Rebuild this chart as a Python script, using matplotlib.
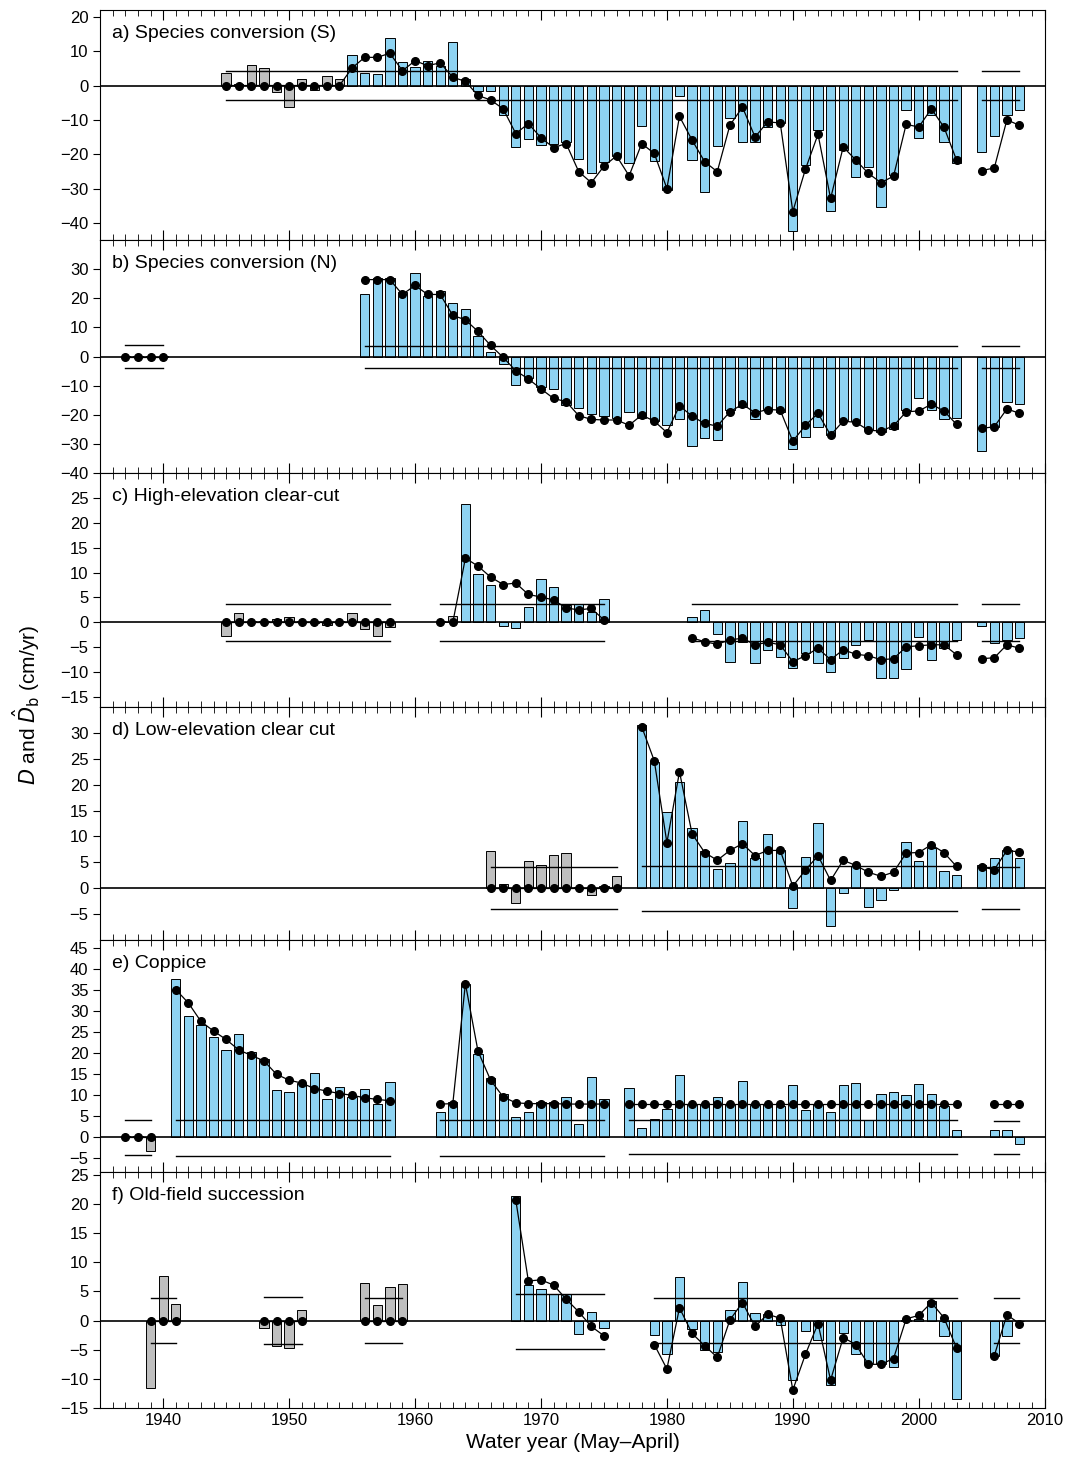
import matplotlib
matplotlib.use("Agg")
import matplotlib.pyplot as plt
from matplotlib.ticker import MultipleLocator
import numpy as np

BLUE = "#8ed3f2"
GRAY = "#bfbfbf"

def yrs(a, b):
    return list(range(a, b + 1))

# ---------------- a) Species conversion (S) ----------------
a_cal_years = yrs(1945, 1954)
a_cal_D = [3.6, 0.3, 6.1, 5.1, -1.9, -6.3, 1.9, -1.4, 2.9, 1.9]
a_trt_years = yrs(1955, 2003)
a_trt_D = [8.9, 3.6, 3.4, 13.8, 6.8, 5.5, 7.2, 5.8, 12.8, 1.9,
           -1.5, -1.5, -8.7, -17.9, -15.5, -17.4, -16.9, -16.4, -21.5, -25.6,
           -22.2, -20.6, -22.7, -11.9, -21.9, -30.4, -3.2, -21.7, -30.9, -17.7,
           -9.4, -16.4, -16.4, -12, -11, -42.5, -23.2, -13, -36.5, -18.8,
           -26.6, -23.7, -35.3, -26, -7.1, -15.3, -8.7, -16.4, -22.7]
a_db_years = yrs(1945, 2003)
a_db = [0] * 10 + [5.1, 8.2, 8.2, 9.4, 4.3, 7.2, 5.8, 6.6, 2.4, 1.2,
        -2.9, -4.2, -6.8, -14, -11.1, -15.2, -18.1, -16.9, -25.1, -28.3,
        -23.5, -20.5, -26.3, -16.9, -19.8, -30, -9, -15.9, -22.2, -25.1,
        -11.6, -6.3, -15, -10.6, -10.9, -36.7, -24.4, -14.2, -32.9, -17.9,
        -21.7, -25.6, -28.3, -26.4, -11.3, -12.1, -6.8, -12.1, -21.7]
a_trt2_years = yrs(2005, 2008)
a_trt2_D = [-19.3, -14.8, -8.7, -7.1]
a_trt2_db = [-24.8, -24, -10, -11.6]
a_thr = [(1945, 2003, 4.3, -4.3), (2005, 2008, 4.3, -4.3)]

# ---------------- b) Species conversion (N) ----------------
b_cal_years = yrs(1937, 1940)
b_cal_D = [0.3, 0.3, 0.3, 0.3]
b_cal_db = [0, 0, 0, 0]
b_trt_years = yrs(1956, 2003)
b_trt_D = [21.3, 27, 27, 22, 28.5, 20.7, 22.4, 18.4, 16.4, 6.9,
           1.4, -2.6, -9.8, -7.5, -10.3, -11, -16.7, -17.8, -19.9, -20.5,
           -21, -18.9, -21, -22, -23.6, -21.5, -30.7, -27.9, -28.7, -18.5,
           -17.4, -21.5, -18, -19, -31.8, -27.6, -24.1, -27, -21.8, -22.2,
           -25.3, -25.8, -25, -18.4, -14.1, -18.5, -21.3, -21]
b_trt_db = [26.4, 26.4, 26.4, 21.3, 24.4, 21.3, 21.3, 14.1, 12.6, 8.6,
            3.8, -0.3, -4.9, -7.7, -11.1, -14.4, -15.5, -20.3, -21.6, -21.8,
            -21.8, -23.6, -20.1, -22.2, -26.1, -16.9, -20.5, -23, -23.9, -19,
            -16.4, -19.3, -18.2, -18.4, -29.1, -23.6, -19.5, -27, -22.2, -22.6,
            -25.3, -25.6, -23.8, -19, -18.7, -16.4, -18.7, -23.3]
b_trt2_years = yrs(2005, 2008)
b_trt2_D = [-32.5, -24.1, -15.7, -16.4]
b_trt2_db = [-24.7, -24.1, -18, -19.5]
b_thr = [(1937, 1940, 3.8, -3.8), (1956, 2003, 3.7, -3.9), (2005, 2008, 3.7, -3.9)]

# ---------------- c) High-elevation clear-cut ----------------
c_cal1_years = yrs(1945, 1958)
c_cal1_D = [-2.7, 1.9, 0.3, 0.3, 0.7, 1.1, 0.3, -0.1, -0.5, 0.3, 1.9, -1.3, -2.7, -1]
c_cal1_db = [0] * 14
c_cal2_years = yrs(1962, 1963)
c_cal2_D = [0.2, 1.2]
c_trt1_years = yrs(1964, 1975)
c_trt1_D = [23.8, 9.8, 7.6, -0.7, -1.2, 3.1, 8.8, 7.1, 3.5, 3.6, 2.1, 4.6]
c_db2_years = yrs(1962, 1975)
c_db2 = [0, 0, 12.9, 11.3, 9.1, 7.6, 7.9, 5.6, 5.1, 4.5, 2.9, 2.5, 2.8, 0.5]
c_trt2_years = yrs(1982, 2003)
c_trt2_D = [1.1, 2.5, -2.4, -7.9, -3.9, -8.2, -5.5, -6.9, -9.2, -6.2, -8.2,
            -9.9, -7.2, -4.5, -3.5, -11.2, -11.2, -9.3, -2.9, -7.5, -5.2, -3.5]
c_trt2_db = [-3.1, -3.9, -4.4, -3.5, -3.2, -4.5, -4, -4.5, -7.9, -6.7, -5.2,
             -7.5, -5.5, -6.4, -6.7, -7.5, -7.3, -4.9, -4.7, -4.5, -4.5, -6.5]
c_trt3_years = yrs(2005, 2008)
c_trt3_D = [-0.7, -4.2, -3.5, -3.2]
c_trt3_db = [-7.3, -7.1, -4.5, -5.2]
c_thr = [(1945, 1958, 3.7, -3.7), (1962, 1975, 3.7, -3.8), (1982, 2003, 3.7, -3.7), (2005, 2008, 3.7, -3.7)]

# ---------------- d) Low-elevation clear cut ----------------
d_cal_years = yrs(1966, 1976)
d_cal_D = [7.1, 0.9, -2.8, 5.2, 4.4, 6.5, 6.8, 0.2, -1.3, 0.4, 2.4]
d_cal_db = [0] * 11
d_trt_years = yrs(1978, 2003)
d_trt_D = [31.5, 24.4, 14.8, 20.5, 11.6, 7.1, 3.7, 4.9, 13, 5.8,
           10.5, 7.4, -3.8, 6, 12.6, -7.3, -1, 4.2, -3.6, -2.3,
           -0.3, 9, 5.3, 7.8, 3.3, 2.5]
d_trt_db = [31.2, 24.6, 8.8, 22.5, 10.5, 6.9, 5.4, 7.3, 8.6, 6.3,
            7.3, 7.3, 0.4, 3.5, 6.3, 1.5, 5.4, 4.4, 3.1, 2.3,
            3.1, 6.8, 6.9, 8.4, 6.9, 4.2]
d_trt2_years = yrs(2005, 2008)
d_trt2_D = [4.4, 5.8, 7.4, 5.8]
d_trt2_db = [4.1, 3.6, 7.3, 7.0]
d_thr = [(1966, 1976, 4.1, -4.1), (1978, 2003, 4.2, -4.3), (2005, 2008, 4.1, -4.1)]

# ---------------- e) Coppice ----------------
e_cal_years = yrs(1937, 1939)
e_cal_D = [0.3, 0.3, -3.3]
e_cal_db = [0, 0, 0]
e_trt1_years = yrs(1941, 1958)
e_trt1_D = [37.8, 28.8, 26.7, 23.9, 20.9, 24.7, 20.3, 18.6, 11.2, 10.8,
            12.9, 15.2, 9, 12, 9.5, 11.6, 7.9, 13.2]
e_trt1_db = [35.2, 32, 27.6, 25.3, 23.3, 20.8, 19.5, 18.2, 15, 13.6,
             12.9, 11.6, 11, 10.4, 10, 9.4, 9, 8.7]
e_trt2_years = yrs(1962, 1975)
e_trt2_D = [6, 8.5, 36.6, 19.9, 14, 10.4, 4.8, 6, 8.4, 8.4, 9.6, 3.1, 14.4, 9.2]
e_trt2_db = [7.9, 8, 36.6, 20.5, 13.6, 9.6, 8.2, 8, 8, 8, 7.9, 7.9, 7.9, 7.9]
e_trt3_years = yrs(1977, 2003)
e_trt3_D = [11.8, 2.1, 4.4, 6.8, 14.9, 8, 8, 9.6, 8, 13.3, 7.6, 8, 7.4, 12.4,
            6.4, 8, 5.9, 12.4, 12.9, 4, 10.2, 10.8, 10, 12.8, 10.2, 7.5, 1.7]
e_trt3_db = [7.9] * 27
e_trt4_years = yrs(2006, 2008)
e_trt4_D = [1.8, 1.8, -1.7]
e_trt4_db = [7.9, 7.9, 7.9]
e_thr = [(1937, 1939, 4.0, -4.2), (1941, 1958, 4.2, -4.4), (1962, 1975, 4.2, -4.4),
         (1977, 2003, 4.0, -4.1), (2006, 2008, 3.8, -3.9)]

# ---------------- f) Old-field succession ----------------
f_cal1_years = yrs(1939, 1941)
f_cal1_D = [-11.6, 7.7, 2.9]
f_cal2_years = yrs(1948, 1951)
f_cal2_D = [-1.2, -4.3, -4.7, 1.9]
f_cal3_years = yrs(1956, 1959)
f_cal3_D = [6.5, 2.6, 5.8, 6.3]
f_trt1_years = yrs(1968, 1975)
f_trt1_D = [21.4, 6.1, 5.4, 4.6, 4.6, -2.3, 1.4, -1.3]
f_trt1_db = [20.7, 6.8, 7, 6.1, 3.7, 1.5, -1, -2.6]
f_trt2_years = yrs(1979, 2003)
f_trt2_D = [-2.5, -5.8, 7.5, -1.5, -5.1, -5.3, 1.8, 6.6, 1.3, 1.2, -0.7, -10.2, -1.8,
            -3.3, -11, -2.2, -5.8, -7.3, -7.5, -7.9, 0.1, 0.3, 3.4, -2.6, -13.5]
f_trt2_db = [-4.1, -8.3, 2.2, -2.2, -4.3, -6.3, 0.1, 3.1, -1, 1.1, 0.4, -11.9, -5.8,
             -0.5, -10.2, -2.9, -4.1, -7.5, -7.5, -6.5, 0.3, 0.9, 3.1, 0.5, -4.7]
f_trt3_years = yrs(2006, 2008)
f_trt3_D = [-6, -2.7, 0.0]
f_trt3_db = [-6, 1, -0.5]
f_thr = [(1939, 1941, 3.8, -3.8), (1948, 1951, 4.0, -4.0), (1956, 1959, 3.8, -3.8),
         (1968, 1975, 4.6, -4.8), (1979, 2003, 3.8, -3.8), (2006, 2008, 3.8, -3.8)]

titles = ["a) Species conversion (S)", "b) Species conversion (N)", "c) High-elevation clear-cut",
          "d) Low-elevation clear cut", "e) Coppice", "f) Old-field succession"]
ylims = [(-45, 22), (-40, 40), (-17, 30), (-10, 35), (-8.3, 47), (-15, 25.5)]
yticks = [list(range(-40, 21, 10)), list(range(-40, 31, 10)), list(range(-15, 26, 5)),
          list(range(-5, 31, 5)), list(range(-5, 46, 5)), list(range(-15, 26, 5))]

# ---------------- figure ----------------
fig = plt.figure(figsize=(10.66, 14.69), dpi=100)
plt.rcParams['font.family'] = ['Liberation Sans', 'DejaVu Sans']
gs = fig.add_gridspec(6, 1, left=0.094, right=0.98, top=0.9932, bottom=0.0415,
                      hspace=0, height_ratios=[230, 233, 234, 233, 232, 236])
axes = [fig.add_subplot(gs[i]) for i in range(6)]

W = 0.74

def bars(ax, x, v, c):
    ax.bar(x, v, width=W, color=c, edgecolor="black", linewidth=0.7, zorder=2)

def dots(ax, x, v):
    ax.plot(x, v, color="black", lw=0.9, marker="o", ms=5.5, zorder=4)

def thr(ax, spans):
    for s, e, u, l in spans:
        ax.plot([s, e], [u, u], color="black", lw=1.0, zorder=3)
        ax.plot([s, e], [l, l], color="black", lw=1.0, zorder=3)

ax = axes[0]
bars(ax, a_cal_years, a_cal_D, GRAY); bars(ax, a_trt_years, a_trt_D, BLUE)
bars(ax, a_trt2_years, a_trt2_D, BLUE)
dots(ax, a_db_years, a_db); dots(ax, a_trt2_years, a_trt2_db); thr(ax, a_thr)

ax = axes[1]
bars(ax, b_cal_years, b_cal_D, GRAY); bars(ax, b_trt_years, b_trt_D, BLUE)
bars(ax, b_trt2_years, b_trt2_D, BLUE)
dots(ax, b_cal_years, b_cal_db); dots(ax, b_trt_years, b_trt_db); dots(ax, b_trt2_years, b_trt2_db)
thr(ax, b_thr)

ax = axes[2]
bars(ax, c_cal1_years, c_cal1_D, GRAY); bars(ax, c_cal2_years, c_cal2_D, GRAY)
bars(ax, c_trt1_years, c_trt1_D, BLUE); bars(ax, c_trt2_years, c_trt2_D, BLUE)
bars(ax, c_trt3_years, c_trt3_D, BLUE)
dots(ax, c_cal1_years, c_cal1_db); dots(ax, c_db2_years, c_db2)
dots(ax, c_trt2_years, c_trt2_db); dots(ax, c_trt3_years, c_trt3_db)
thr(ax, c_thr)

ax = axes[3]
bars(ax, d_cal_years, d_cal_D, GRAY); bars(ax, d_trt_years, d_trt_D, BLUE)
bars(ax, d_trt2_years, d_trt2_D, BLUE)
dots(ax, d_cal_years, d_cal_db); dots(ax, d_trt_years, d_trt_db); dots(ax, d_trt2_years, d_trt2_db)
thr(ax, d_thr)

ax = axes[4]
bars(ax, e_cal_years, e_cal_D, GRAY)
for yy, dd, bb in [(e_trt1_years, e_trt1_D, e_trt1_db), (e_trt2_years, e_trt2_D, e_trt2_db),
                   (e_trt3_years, e_trt3_D, e_trt3_db), (e_trt4_years, e_trt4_D, e_trt4_db)]:
    bars(ax, yy, dd, BLUE); dots(ax, yy, bb)
dots(ax, e_cal_years, e_cal_db)
thr(ax, e_thr)

ax = axes[5]
for yy, dd in [(f_cal1_years, f_cal1_D), (f_cal2_years, f_cal2_D), (f_cal3_years, f_cal3_D)]:
    bars(ax, yy, dd, GRAY); dots(ax, yy, [0] * len(yy))
for yy, dd, bb in [(f_trt1_years, f_trt1_D, f_trt1_db), (f_trt2_years, f_trt2_D, f_trt2_db),
                   (f_trt3_years, f_trt3_D, f_trt3_db)]:
    bars(ax, yy, dd, BLUE); dots(ax, yy, bb)
thr(ax, f_thr)

for ax, t, yl, tk in zip(axes, titles, ylims, yticks):
    ax.set_xlim(1935, 2010)
    ax.set_ylim(*yl)
    ax.set_yticks(tk)
    ax.axhline(0, color="black", lw=1.2, zorder=3)
    ax.xaxis.set_major_locator(MultipleLocator(10))
    ax.xaxis.set_minor_locator(MultipleLocator(1))
    ax.tick_params(axis="x", which="both", direction="in", top=True, bottom=True)
    ax.tick_params(axis="x", which="major", length=7)
    ax.tick_params(axis="x", which="minor", length=4)
    ax.tick_params(axis="y", labelsize=12, direction="out", length=5)
    ax.text(0.012, 0.935, t, transform=ax.transAxes, ha="left", va="top", fontsize=14)
    if ax is not axes[-1]:
        ax.tick_params(axis="x", labelbottom=False)
axes[-1].tick_params(axis="x", labelsize=12)
axes[-1].set_xlabel("Water year (May\u2013April)", fontsize=15)
fig.text(0.025, 0.52, r"$D$ and $\hat{D}_{\rm b}$ (cm/yr)", rotation=90, fontsize=15,
         ha="center", va="center")
fig.savefig("out.png", dpi=100)
